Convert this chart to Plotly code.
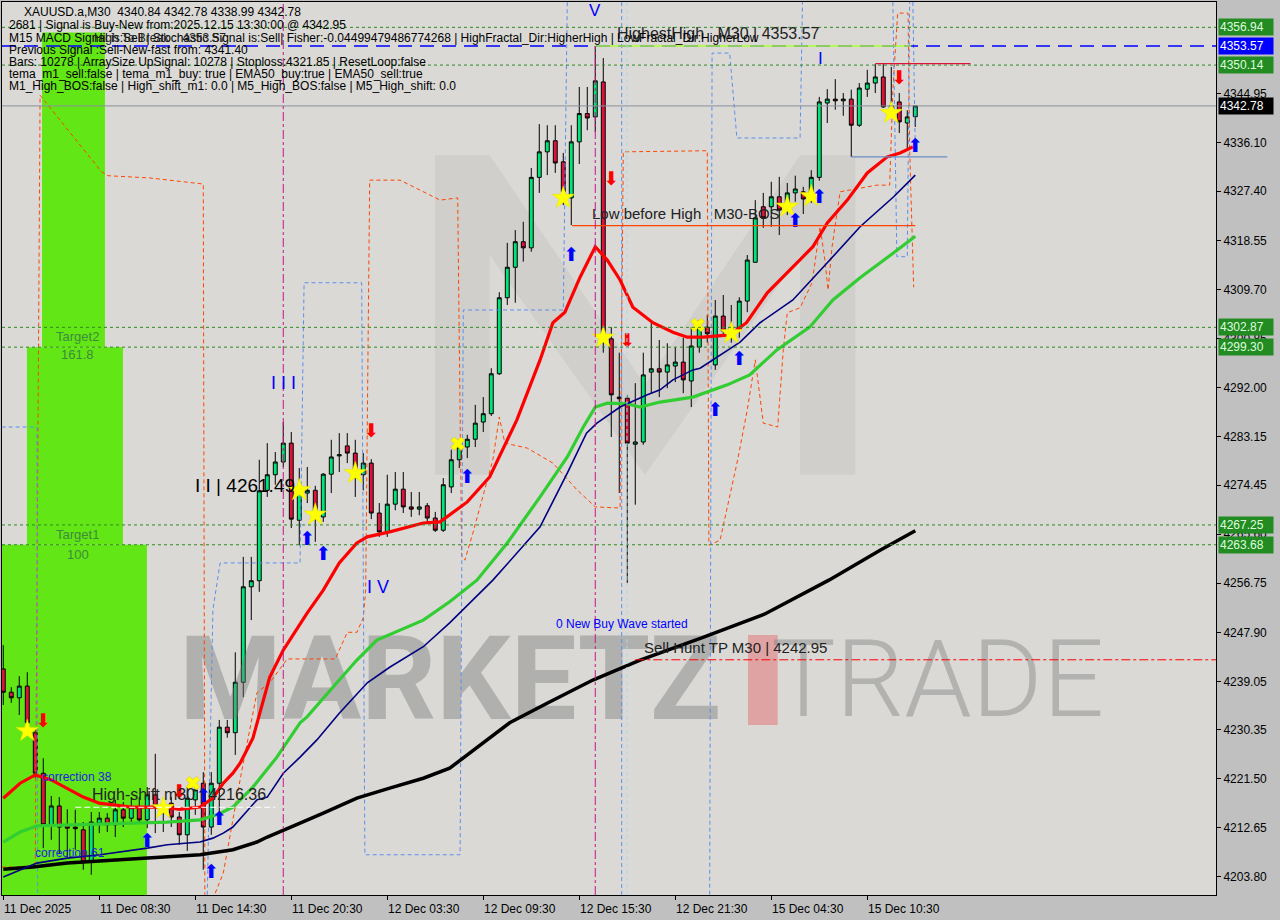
import plotly.graph_objects as go

# ---------------- DATA ----------------
bars = list(range(115))
opens = [4241.3, 4237.1, 4236.1, 4238.2, 4229.8, 4222.5, 4213.2, 4216.6, 4213.2, 4212.8,
         4212.3, 4206.5, 4213.5, 4214.4, 4213.2, 4215.9, 4214.4, 4216.4, 4214.1, 4218.6,
         4216.6, 4217.1, 4214.6, 4211.4, 4217.7, 4220.7, 4212.8, 4220.7, 4230.8, 4229.8,
         4238.9, 4256.1, 4257.2, 4273.5, 4276.3, 4278.6, 4282.0, 4268.1, 4273.0, 4273.5,
         4268.7, 4276.4, 4279.7, 4281.5, 4280.2, 4276.3, 4278.4, 4269.4, 4266.0, 4271.0,
         4273.7, 4270.5, 4270.1, 4270.7, 4268.5, 4266.3, 4274.1, 4279.0, 4281.3, 4282.7,
         4285.8, 4287.3, 4294.5, 4308.2, 4313.7, 4318.3, 4317.2, 4329.9, 4334.5, 4336.5,
         4332.7, 4326.2, 4336.3, 4341.4, 4340.8, 4347.1, 4300.8, 4290.3, 4290.1, 4281.8,
         4282.2, 4294.8, 4295.4, 4294.8, 4295.9, 4296.6, 4293.2, 4299.3, 4302.9, 4296.1,
         4304.9, 4302.2, 4302.6, 4307.6, 4314.6, 4324.6, 4324.6, 4326.4, 4324.6, 4327.1,
         4327.3, 4326.0, 4329.9, 4343.3, 4344.0, 4343.7, 4344.0, 4339.3, 4345.8, 4346.9,
         4348.0, 4342.4, 4343.5, 4339.7, 4340.84]
highs = [4245.6, 4238.0, 4240.0, 4240.7, 4230.7, 4225.2, 4218.4, 4218.2, 4216.0, 4215.9,
         4213.7, 4215.5, 4215.5, 4215.3, 4217.7, 4217.3, 4218.2, 4218.2, 4220.0, 4226.0,
         4218.0, 4218.2, 4215.5, 4220.0, 4221.3, 4222.7, 4222.7, 4232.1, 4232.1, 4244.3,
         4261.5, 4261.5, 4279.0, 4282.0, 4280.4, 4285.8, 4284.0, 4277.5, 4277.7, 4274.3,
         4276.6, 4282.6, 4283.8, 4283.8, 4282.6, 4280.2, 4279.1, 4271.2, 4276.3, 4276.8,
         4276.8, 4273.2, 4273.2, 4271.2, 4269.6, 4275.7, 4280.8, 4282.6, 4283.5, 4288.9,
         4290.3, 4295.5, 4309.2, 4318.1, 4320.4, 4321.9, 4331.6, 4339.5, 4339.3, 4339.3,
         4334.3, 4339.3, 4346.2, 4346.2, 4353.57, 4351.4, 4302.9, 4298.3, 4290.7, 4292.8,
         4298.3, 4303.7, 4300.6, 4300.0, 4299.3, 4301.0, 4302.9, 4304.2, 4305.1, 4307.8,
         4308.7, 4306.9, 4308.3, 4315.9, 4325.8, 4327.1, 4329.1, 4330.0, 4328.9, 4330.2,
         4328.2, 4331.2, 4344.4, 4345.8, 4347.6, 4345.1, 4345.7, 4346.9, 4349.3, 4350.3,
         4350.3, 4349.8, 4345.1, 4342.0, 4342.78]
lows = [4234.8, 4235.2, 4233.0, 4230.7, 4221.6, 4209.0, 4210.5, 4208.1, 4207.4, 4208.7,
        4205.1, 4204.2, 4211.7, 4211.9, 4211.0, 4212.8, 4213.7, 4213.5, 4212.6, 4211.7,
        4211.9, 4212.8, 4209.6, 4208.5, 4215.0, 4205.1, 4211.4, 4215.3, 4228.9, 4225.8,
        4236.2, 4250.1, 4255.2, 4272.3, 4274.5, 4277.7, 4266.7, 4263.6, 4271.2, 4264.2,
        4267.8, 4273.0, 4276.8, 4278.4, 4272.3, 4273.5, 4268.3, 4265.1, 4265.1, 4269.9,
        4269.4, 4268.7, 4269.0, 4267.8, 4266.0, 4266.0, 4273.0, 4277.5, 4279.3, 4281.3,
        4284.0, 4286.9, 4294.3, 4306.9, 4307.3, 4314.7, 4316.5, 4327.1, 4330.3, 4330.7,
        4324.9, 4321.3, 4332.3, 4338.4, 4338.1, 4298.3, 4283.1, 4273.0, 4256.8, 4270.9,
        4281.7, 4291.0, 4290.3, 4291.9, 4293.0, 4291.0, 4288.5, 4298.3, 4300.1, 4295.2,
        4301.5, 4300.1, 4301.0, 4305.6, 4314.5, 4320.8, 4321.0, 4319.5, 4323.1, 4325.5,
        4323.3, 4325.3, 4329.3, 4339.7, 4342.1, 4341.0, 4333.6, 4339.0, 4344.4, 4345.1,
        4342.4, 4341.1, 4337.9, 4335.2, 4338.99]
closes = [4237.1, 4236.1, 4238.2, 4231.6, 4222.5, 4213.2, 4216.6, 4212.8, 4212.6, 4212.5,
          4206.5, 4213.7, 4214.4, 4213.2, 4215.9, 4214.4, 4216.3, 4214.1, 4218.6, 4216.6,
          4215.5, 4214.6, 4211.4, 4218.0, 4219.5, 4212.8, 4220.7, 4230.8, 4229.8, 4238.9,
          4256.1, 4257.2, 4273.4, 4276.3, 4278.6, 4282.0, 4268.3, 4273.0, 4273.5, 4268.5,
          4276.4, 4279.5, 4279.9, 4280.2, 4276.8, 4278.4, 4269.4, 4266.0, 4271.0, 4273.7,
          4270.5, 4270.1, 4270.5, 4268.5, 4266.3, 4274.5, 4279.0, 4281.3, 4282.7, 4285.6,
          4287.3, 4294.5, 4308.2, 4313.7, 4318.3, 4317.2, 4329.9, 4334.5, 4336.5, 4332.5,
          4327.3, 4336.3, 4341.4, 4340.6, 4347.3, 4301.0, 4290.7, 4290.0, 4282.0, 4282.2,
          4294.3, 4295.4, 4294.8, 4296.1, 4296.6, 4293.4, 4299.5, 4302.9, 4301.7, 4304.9,
          4302.2, 4302.9, 4307.6, 4315.0, 4322.6, 4322.6, 4326.4, 4324.0, 4327.1, 4327.8,
          4326.0, 4329.9, 4343.5, 4344.0, 4343.7, 4344.0, 4339.3, 4346.0, 4346.9, 4348.0,
          4342.6, 4342.8, 4339.9, 4340.8, 4342.78]

# moving averages (bar position, price)
red_ma_x = [0, 2.1, 4, 6, 10, 12, 16, 20.5, 22, 24.6, 26.2, 27.5, 28.7, 29.6, 31.2, 33.3, 35, 38, 40, 42,
            44.2, 45.5, 48.3, 50.5, 52.5, 54.6, 55.8, 58, 60.8, 64.2, 67.1, 68.7, 70.2, 72.1, 74, 75.5,
            77.1, 78.7, 81.2, 83.7, 85.5, 87.5, 90.8, 92.9, 95.5, 98.7, 101.2, 103, 105.5, 108, 110.5,
            112.1, 113.7]
red_ma_y = [4218.0, 4220.7, 4222.2, 4221.3, 4218.2, 4217.1, 4216.4, 4216.4, 4216.0, 4216.4, 4218.0, 4220.7,
            4222.5, 4224.3, 4228.8, 4239.8, 4244.7, 4251.4, 4255.5, 4260.4, 4264.0, 4265.1, 4266.0, 4266.9,
            4267.6, 4267.8, 4269.1, 4271.4, 4275.9, 4286.2, 4297.0, 4303.7, 4305.6, 4311.9, 4317.4, 4315.0,
            4311.4, 4306.5, 4303.7, 4302.0, 4301.1, 4301.1, 4301.5, 4303.7, 4309.1, 4313.8, 4317.4, 4321.7,
            4325.8, 4330.7, 4333.6, 4334.3, 4335.4]
green_ma_x = [0, 2.1, 4.2, 8, 12.1, 16.2, 20.5, 24.6, 26.7, 28.7, 31.2, 34.2, 37.1, 38, 41.2, 44.2, 46.7,
              50.5, 52.5, 55.8, 59.2, 63, 67.1, 70.5, 72.5, 74, 75.5, 78, 79.6, 82.1, 86.2, 90.5, 93.3,
              96.7, 100.8, 103.7, 107.1, 111.3, 114]
green_ma_y = [4210.1, 4211.9, 4213.0, 4213.2, 4213.4, 4213.5, 4213.7, 4214.1, 4215.0, 4216.4, 4220.0, 4225.4,
              4231.6, 4232.7, 4238.0, 4242.9, 4246.5, 4248.9, 4250.1, 4253.4, 4257.3, 4264.0, 4272.3, 4279.5,
              4284.9, 4288.5, 4289.2, 4289.1, 4288.5, 4289.4, 4290.3, 4292.5, 4294.3, 4298.8, 4302.9, 4307.8,
              4311.8, 4316.3, 4319.3]
navy_ma_x = [0, 2.1, 4.2, 8, 12.1, 18, 20.5, 24.6, 26.2, 27.5, 28.7, 31.7, 33, 35, 37.1, 39.2, 42, 45.5,
             48.3, 52.5, 55.8, 61.2, 67.1, 70.5, 72.9, 74.2, 77.1, 80.5, 82.1, 83.7, 86.2, 87.1, 92.1, 94.6,
             98.7, 103, 107.1, 111.3, 114]
navy_ma_y = [4203.8, 4205.1, 4206.3, 4207.2, 4207.8, 4209.0, 4209.6, 4210.1, 4210.8, 4211.7, 4212.8, 4217.7,
             4218.2, 4222.5, 4225.4, 4228.5, 4233.3, 4238.8, 4241.6, 4245.3, 4249.6, 4257.3, 4266.9, 4276.6,
             4283.8, 4285.6, 4288.5, 4290.7, 4291.6, 4293.4, 4295.2, 4295.5, 4300.2, 4303.7, 4307.8, 4314.5,
             4321.0, 4326.4, 4330.3]
black_ma_x = [0, 3.7, 8, 12.1, 18.3, 24.6, 28.7, 31.7, 33, 35.8, 37.1, 40, 44.2, 48.3, 52.5, 55.8, 63.3,
              68.1, 73.7, 79.6, 87.3, 95.2, 103.2, 109.6, 114]
black_ma_y = [4205.2, 4205.6, 4206.3, 4206.7, 4207.2, 4207.8, 4208.7, 4210.1, 4211.0, 4212.6, 4213.5, 4215.3,
              4218.0, 4219.8, 4221.6, 4223.4, 4231.6, 4235.2, 4239.3, 4242.9, 4246.9, 4251.2, 4257.3, 4262.7,
              4266.2]

# dashed channel lines (None separates pieces)
orange_x = [-0.2, 4.0, 4.6, 7.6, 10.0, 12.3, 13.1, 18.3, 24.6, 25.0, 25.2, None,
            26.5, 27.5, 29.6, 31.7, 33.3, 35.5, 41.5, 43.0, 44.2, 45.0, 45.3, 45.8, 49.6, 52.1, 54.6, 56.8,
            57.3, 57.7, 58.7, 61.2, 62.0, 62.7, 65.5, 68.7, 71.7, 74.0, 77.1, 77.5, 88.0, 88.2, 89.6, 91.8,
            93.0, 94.0, 95.0, 96.8, 97.5, 98.0, 99.6, 101.1, 102.1, 102.7, 103.1, 103.6, 104.6, 109.2, 110.8,
            111.2, 111.8, 113.1, 113.3, 113.8]
orange_y = [4205.6, 4205.6, 4344.7, 4339.2, 4335.0, 4330.9, 4330.2, 4329.8, 4328.7, 4328.7, 4200.6, None,
            4200.9, 4204.5, 4221.3, 4237.0, 4238.8, 4243.1, 4243.1, 4247.9, 4247.9, 4250.5, 4255.5, 4329.4,
            4329.4, 4327.6, 4325.8, 4326.2, 4261.8, 4260.9, 4265.8, 4279.0, 4286.7, 4282.0, 4281.1, 4278.4,
            4273.6, 4270.5, 4270.3, 4334.5, 4334.7, 4263.6, 4264.5, 4279.0, 4288.0, 4297.0, 4285.6, 4284.9,
            4298.8, 4305.5, 4306.4, 4310.9, 4321.0, 4315.0, 4309.6, 4317.4, 4327.3, 4328.5, 4328.5, 4345.7,
            4359.5, 4359.5, 4334.8, 4310.1]
blue_x = [-0.2, 4.2, 4.3, None,
          25.5, 26.2, 27.1, 37.1, 37.6, 44.8, 45.2, 57.1, 57.5, 70.0, 70.5, None,
          77.3, 77.3, None,
          88.3, 88.6, 90.8, 91.7, 99.6, 99.9, None,
          111.2, 111.7, 113.0, 113.3, None,
          113.7, 114.0]
blue_y = [4284.9, 4284.9, 4200.6, None,
          4200.6, 4251.9, 4260.4, 4260.4, 4310.9, 4310.9, 4207.8, 4207.8, 4306.0, 4306.0, 4361.5, None,
          4361.5, 4200.6, None,
          4200.6, 4352.3, 4352.3, 4337.0, 4337.0, 4361.5, None,
          4361.5, 4315.6, 4315.6, 4361.5, None,
          4361.5, 4334.8]

# signals
up_arrow_bars = [18, 25, 26, 27, 38, 40, 58, 71, 89, 92, 99, 102, 114]
up_arrow_prices = [4210.1, 4218.2, 4204.5, 4214.1, 4264.5, 4261.7, 4275.7, 4315.7, 4287.8, 4297.0, 4321.9,
                   4326.2, 4335.4]
down_arrow_bars = [5, 22, 46, 76, 78, 112]
down_arrow_prices = [4231.7, 4218.9, 4284.0, 4329.4, 4300.2, 4347.5]
star_bars = [3, 20, 37, 39, 44, 70, 75, 91, 98, 101, 111]
star_prices = [4230.1, 4216.2, 4273.5, 4269.1, 4276.6, 4326.2, 4301.0, 4301.8, 4324.6, 4326.5, 4341.5]
cross_bars = [23.7, 56.8, 86.8]
cross_prices = [4220.7, 4281.9, 4303.3]

tick_bars = [0, 12, 24, 36, 48, 60, 72, 84, 96, 108]
tick_labels = ["11 Dec 2025", "11 Dec 08:30", "11 Dec 14:30", "11 Dec 20:30", "12 Dec 03:30",
               "12 Dec 09:30", "12 Dec 15:30", "12 Dec 21:30", "15 Dec 04:30", "15 Dec 10:30"]
price_ticks = [4344.95, 4336.10, 4327.40, 4318.55, 4309.70, 4300.85, 4292.00, 4283.15, 4274.45, 4265.60,
               4256.75, 4247.90, 4239.05, 4230.35, 4221.50, 4212.65, 4203.80]
green_levels = [4356.94, 4350.14, 4302.87, 4299.30, 4267.25, 4263.68]
highest_high = 4353.57
last_price = 4342.78
sell_hunt_tp = 4242.95
high_shift = 4216.36
bos_level = 4321.2

header_lines = [
    "XAUUSD.a,M30  4340.84 4342.78 4338.99 4342.78",
    "2681 | Signal is Buy-New from:2025.12.15 13:30:00 @ 4342.95",
    "M15 MACD Signal is:Sell | Stochastic Signal is:Sell| Fisher:-0.04499479486774268 | HighFractal_Dir:HigherHigh | LowFractal_Dir:HigherLow",
    "Previous Signal :Sell-New-fast from: 4341.40",
    "Bars: 10278 | ArraySize UpSignal: 10278 | Stoploss:4321.85 | ResetLoop:false",
    "tema_m1_sell:false | tema_m1_buy: true | EMA50_buy:true | EMA50_sell:true",
    "M1_High_BOS:false | High_shift_m1: 0.0 | M5_High_BOS:false | M5_High_shift: 0.0",
]

# ---------------- FIGURE ----------------
X0, X1 = -0.16, 151.59
Y0, Y1 = 4200.55, 4361.51
FONT = "Liberation Sans"
LIME = "#63E615"

fig = go.Figure()

# watermark (drawn first -> behind)
fig.add_trace(go.Scatter(x=[22.0], y=[4237.6], mode="text", text=["<b>MARKETZ</b>"],
                         textposition="middle right",
                         textfont=dict(family="Roboto", size=117, color="rgba(120,120,120,0.42)"),
                         hoverinfo="skip", showlegend=False))
fig.add_trace(go.Scatter(x=[96.0], y=[4237.6], mode="text", text=["TRADE"],
                         textposition="middle right",
                         textfont=dict(family="Roboto", size=108, color="rgba(125,125,125,0.42)", weight=300),
                         hoverinfo="skip", showlegend=False))

shapes = []
# target boxes
shapes.append(dict(type="rect", xref="x", yref="y", x0=X0, x1=17.96, y0=Y0, y1=4263.68,
                   fillcolor=LIME, line=dict(width=0), layer="below"))
shapes.append(dict(type="rect", xref="x", yref="y", x0=2.96, x1=14.96, y0=4263.68, y1=4299.30,
                   fillcolor=LIME, line=dict(width=0), layer="below"))
shapes.append(dict(type="rect", xref="x", yref="y", x0=4.84, x1=12.71, y0=4299.30, y1=4356.0,
                   fillcolor=LIME, line=dict(width=0), layer="below"))
# M logo
mlogo = [(53.96, 4276.3), (53.96, 4333.9), (60.8, 4333.9), (80.2, 4292.5), (99.6, 4333.9), (106.5, 4333.9),
         (106.5, 4276.3), (99.6, 4276.3), (99.6, 4315.9), (80.2, 4276.3), (60.8, 4315.9), (60.8, 4276.3)]
path = "M " + " L ".join(f"{a},{b}" for a, b in mlogo) + " Z"
shapes.append(dict(type="path", xref="x", yref="y", path=path, fillcolor="rgba(150,150,150,0.14)",
                   line=dict(width=0), layer="below"))
# red I of watermark
shapes.append(dict(type="rect", xref="x", yref="y", x0=93.1, x1=96.8, y0=4231.2, y1=4247.4,
                   fillcolor="rgba(225,110,110,0.5)", line=dict(width=0), layer="below"))

# horizontal levels
for lv in green_levels:
    shapes.append(dict(type="line", xref="paper", yref="y", x0=0, x1=1, y0=lv, y1=lv,
                       line=dict(color="#2E8B22", width=1, dash="3px,3px")))
shapes.append(dict(type="line", xref="paper", yref="y", x0=0, x1=1, y0=highest_high, y1=highest_high,
                   line=dict(color="#0000FF", width=1.5, dash="14px,8px")))
shapes.append(dict(type="line", xref="x", yref="y", x0=74, x1=113.5, y0=highest_high, y1=highest_high,
                   line=dict(color="#ADFF2F", width=1.5)))
shapes.append(dict(type="line", xref="paper", yref="y", x0=0, x1=1, y0=last_price, y1=last_price,
                   line=dict(color="#8A909E", width=1)))
shapes.append(dict(type="line", xref="x", yref="y", x0=79, x1=X1, y0=sell_hunt_tp, y1=sell_hunt_tp,
                   line=dict(color="#FF0000", width=1, dash="dashdot")))
shapes.append(dict(type="line", xref="x", yref="y", x0=9, x1=34, y0=high_shift, y1=high_shift,
                   line=dict(color="#FFFFFF", width=1, dash="6px,3px")))
shapes.append(dict(type="line", xref="x", yref="y", x0=71.1, x1=114, y0=bos_level, y1=bos_level,
                   line=dict(color="#FF4500", width=1.3)))
shapes.append(dict(type="line", xref="x", yref="y", x0=109, x1=120.9, y0=4350.4, y1=4350.4,
                   line=dict(color="#DC143C", width=1.3)))
shapes.append(dict(type="line", xref="x", yref="y", x0=106, x1=118, y0=4333.6, y1=4333.6,
                   line=dict(color="#6A8CC8", width=1.3)))
# vertical markers
for vb in [35, 74]:
    shapes.append(dict(type="line", xref="x", yref="y", x0=vb, x1=vb,
                       y0=Y0, y1=(Y1 if vb == 35 else highest_high),
                       line=dict(color="#C71585", width=1, dash="dashdot")))
shapes.append(dict(type="line", xref="x", yref="y", x0=77.96, x1=77.96, y0=Y0, y1=Y1,
                   line=dict(color="#A8D8EA", width=1, dash="4px,3px")))

# dashed channels
fig.add_trace(go.Scatter(x=orange_x, y=orange_y, mode="lines", connectgaps=False,
                         line=dict(color="#FF4500", width=1, dash="4px,3px"),
                         hoverinfo="skip", showlegend=False))
fig.add_trace(go.Scatter(x=blue_x, y=blue_y, mode="lines", connectgaps=False,
                         line=dict(color="#5B8FEF", width=1, dash="4px,3px"),
                         hoverinfo="skip", showlegend=False))

# candles
fig.add_trace(go.Candlestick(x=bars, open=opens, high=highs, low=lows, close=closes,
                             increasing=dict(fillcolor="#00E676", line=dict(color="black", width=1)),
                             decreasing=dict(fillcolor="#DC143C", line=dict(color="black", width=1)),
                             whiskerwidth=0, hoverinfo="skip", showlegend=False))

# moving averages
fig.add_trace(go.Scatter(x=black_ma_x, y=black_ma_y, mode="lines", line=dict(color="black", width=3.5),
                         hoverinfo="skip", showlegend=False))
fig.add_trace(go.Scatter(x=green_ma_x, y=green_ma_y, mode="lines", line=dict(color="#32CD32", width=3.2),
                         hoverinfo="skip", showlegend=False))
fig.add_trace(go.Scatter(x=navy_ma_x, y=navy_ma_y, mode="lines", line=dict(color="#000080", width=1.6),
                         hoverinfo="skip", showlegend=False))
fig.add_trace(go.Scatter(x=red_ma_x, y=red_ma_y, mode="lines", line=dict(color="#FF0000", width=3.2),
                         hoverinfo="skip", showlegend=False))

# signals
fig.add_trace(go.Scatter(x=star_bars, y=star_prices, mode="markers",
                         marker=dict(symbol="star", size=17, color="#FFFF00", line=dict(width=0.5, color="#E0E000")),
                         hoverinfo="skip", showlegend=False))
fig.add_trace(go.Scatter(x=cross_bars, y=cross_prices, mode="markers",
                         marker=dict(symbol="x", size=12, color="#FFFF00", line=dict(width=0.5, color="#D4C000")),
                         hoverinfo="skip", showlegend=False))
fig.add_trace(go.Scatter(x=up_arrow_bars, y=up_arrow_prices, mode="text", text=["⬆"] * len(up_arrow_bars),
                         textfont=dict(family="DejaVu Sans", size=19, color="#0000FF"),
                         hoverinfo="skip", showlegend=False))
fig.add_trace(go.Scatter(x=down_arrow_bars, y=down_arrow_prices, mode="text", text=["⬇"] * len(down_arrow_bars),
                         textfont=dict(family="DejaVu Sans", size=19, color="#FF0000"),
                         hoverinfo="skip", showlegend=False))

# chart text labels (data positions)
def dtext(t, x, y, size=15, color="#111111", anchor="left"):
    return dict(text=t, x=x, y=y, xref="x", yref="y", xanchor=anchor, yanchor="middle",
                showarrow=False, font=dict(family=FONT, size=size, color=color))

anns = [
    dtext("HighestHigh   M30 | 4353.57", 76.5, 4355.9, 16, "#222222"),
    dtext("V", 74, 4360.0, 17, "#0000FF", "center"),
    dtext("I", 102.1, 4351.4, 17, "#0000FF", "center"),
    dtext("I I I", 35, 4292.8, 18, "#0000FF", "center"),
    dtext("I V", 46.8, 4256.1, 18, "#0000FF", "center"),
    dtext("I I | 4261.49", 23.7, 4274.3, 19, "#000000"),
    dtext("Low before High   M30-BOS", 73.3, 4323.3, 15, "#222222"),
    dtext("0 New Buy Wave started", 68.8, 4249.4, 12, "#0000FF"),
    dtext("Sell Hunt TP M30 | 4242.95", 79.8, 4245.1, 15, "#222222"),
    dtext("High-shift m30 | 4216.36", 10.8, 4218.6, 16, "#222222"),
    dtext("correction 38", 4.6, 4221.8, 12, "#1E1EE0"),
    dtext("correction 61", 3.7, 4208.1, 12, "#1E1EE0"),
    dtext("Target2", 9.3, 4301.3, 13, "#3C8C3C", "center"),
    dtext("161.8", 9.3, 4297.9, 13, "#3C8C3C", "center"),
    dtext("Target1", 9.3, 4265.6, 13, "#3C8C3C", "center"),
    dtext("100", 9.3, 4262.0, 13, "#3C8C3C", "center"),
]

# header lines (pixel-placed)
def ptext(t, px, py, size=12, color="black"):
    return dict(text=t, xref="paper", yref="paper", x=(px - 2) / 1214, y=1 - (py - 2) / 893,
                xanchor="left", yanchor="middle", showarrow=False,
                font=dict(family=FONT, size=size, color=color))

header_y = [12, 25, 38, 50, 62, 74, 86]
header_x = [22, 7, 7, 7, 7, 7, 7]
for t, hx, hy in zip(header_lines, header_x, header_y):
    anns.append(ptext(t, hx, hy))
anns.append(ptext("High To Break :  4353.57", 92, 38, 12, "#222222"))

# x axis labels (left-aligned at tick)
for b, lab in zip(tick_bars, tick_labels):
    anns.append(dict(text=lab, x=b, y=0, xref="x", yref="paper", xanchor="left", yanchor="top",
                     xshift=-1, yshift=-5, showarrow=False, font=dict(family=FONT, size=12, color="black")))

# right-side price boxes
boxes = [(4356.94, "#228B22", "#DFFFDF"), (highest_high, "#0000FF", "#FFFFFF"), (4350.14, "#228B22", "#DFFFDF"),
         (last_price, "#000000", "#FFFFFF"), (4302.87, "#228B22", "#DFFFDF"), (4299.30, "#228B22", "#DFFFDF"),
         (4267.25, "#228B22", "#DFFFDF"), (4263.68, "#228B22", "#DFFFDF")]
for lv, bg, fc in boxes:
    anns.append(dict(text=f"{lv:.2f}", x=1, y=lv, xref="paper", yref="y", xanchor="left", yanchor="middle",
                     xshift=2, showarrow=False, bgcolor=bg, width=52, align="left", borderpad=1,
                     font=dict(family=FONT, size=12, color=fc)))

fig.update_layout(
    width=1280, height=920,
    margin=dict(l=2, r=64, t=2, b=25, pad=0),
    paper_bgcolor="#C0C0C0", plot_bgcolor="#DAD9D6",
    showlegend=False, hovermode=False,
    shapes=shapes, annotations=anns,
    xaxis=dict(range=[X0, X1], showgrid=False, zeroline=False, rangeslider=dict(visible=False),
               tickvals=tick_bars, ticktext=[""] * len(tick_bars), ticks="outside", ticklen=4,
               tickcolor="black", showline=True, linecolor="black", linewidth=1, mirror=True),
    yaxis=dict(range=[Y0, Y1], side="right", showgrid=False, zeroline=False,
               tickvals=price_ticks, ticktext=[f"{v:.2f}" for v in price_ticks],
               ticks="outside", ticklen=4, tickcolor="black",
               tickfont=dict(family=FONT, size=12, color="black"),
               showline=True, linecolor="black", linewidth=1, mirror=True),
)

fig.write_html("out.html", config={"displayModeBar": False},
               post_script="document.body.style.margin='0';document.body.style.background='#C0C0C0';")
